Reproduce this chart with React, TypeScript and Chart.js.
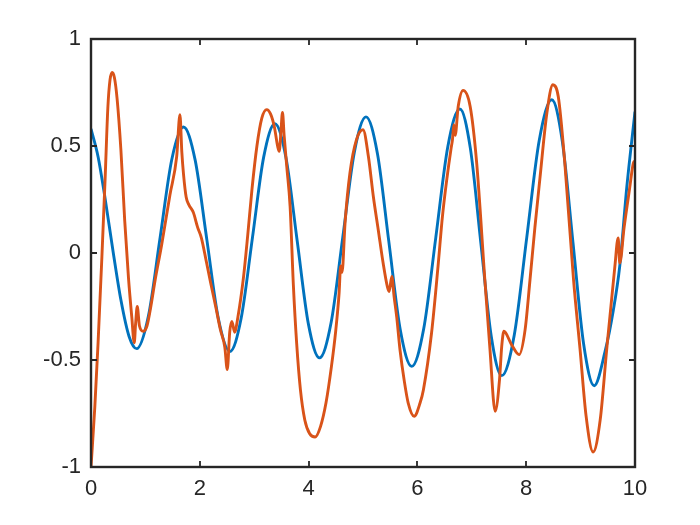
import React, { useEffect, useRef } from "react";
import { Chart, registerables } from "chart.js";

Chart.register(...registerables);

// Blue series (x, y)
const blueX = [
  0, 0.13, 0.25, 0.41, 0.55, 0.7, 0.84,
  1.055, 1.27, 1.485, 1.7,
  1.914, 2.128, 2.341, 2.555,
  2.761, 2.968, 3.174, 3.38,
  3.585, 3.79, 3.995, 4.2,
  4.414, 4.628, 4.841, 5.055,
  5.265, 5.475, 5.685, 5.895,
  6.116, 6.338, 6.559, 6.78,
  6.973, 7.165, 7.358, 7.55,
  7.78, 8.01, 8.24, 8.47,
  8.665, 8.86, 9.055, 9.25,
  9.45, 9.6, 9.72, 9.85, 10,
];
const blueY = [
  0.58, 0.45, 0.27, 0.0, -0.22, -0.39, -0.447,
  -0.295, 0.071, 0.437, 0.589,
  0.435, 0.065, -0.306, -0.46,
  -0.304, 0.072, 0.448, 0.604,
  0.444, 0.057, -0.33, -0.49,
  -0.325, 0.073, 0.471, 0.636,
  0.465, 0.053, -0.359, -0.53,
  -0.354, 0.072, 0.497, 0.673,
  0.49, 0.05, -0.39, -0.573,
  -0.384, 0.072, 0.527, 0.716,
  0.52, 0.048, -0.424, -0.62,
  -0.46, -0.27, -0.06, 0.31, 0.66,
];

// Orange series (x, y)
const orangeX = [
  0, 0.07, 0.13, 0.2, 0.26, 0.31, 0.35, 0.39, 0.43, 0.48, 0.55, 0.62, 0.69, 0.75,
  0.795, 0.82, 0.85, 0.89, 0.96, 1.03, 1.1, 1.18, 1.3, 1.45, 1.575, 1.635, 1.67,
  1.7, 1.75, 1.8, 1.88, 1.96, 2.03, 2.12, 2.2, 2.3, 2.38, 2.46, 2.505, 2.55, 2.59,
  2.64, 2.7, 2.8, 2.88, 2.96, 3.05, 3.14, 3.23, 3.3, 3.37, 3.43, 3.46, 3.49, 3.52,
  3.55, 3.6, 3.66, 3.72, 3.78, 3.85, 3.93, 4.02, 4.12, 4.22, 4.32, 4.42, 4.5, 4.56,
  4.59, 4.615, 4.67, 4.76, 4.88, 5.0, 5.1, 5.19, 5.28, 5.37, 5.45, 5.48, 5.53, 5.57,
  5.62, 5.68, 5.76, 5.83, 5.94, 6.05, 6.11, 6.26, 6.38, 6.46, 6.54, 6.62, 6.645, 6.67,
  6.695, 6.75, 6.84, 6.97, 7.09, 7.24, 7.33, 7.43, 7.51, 7.55, 7.59, 7.73, 7.87, 7.98,
  8.07, 8.16, 8.25, 8.38, 8.49, 8.59, 8.71, 8.87, 8.99, 9.1, 9.23, 9.36, 9.48, 9.63,
  9.69, 9.72, 9.8, 9.9, 9.97, 10,
];
const orangeY = [
  -1, -0.72, -0.42, -0.02, 0.35, 0.68, 0.81, 0.844, 0.82, 0.72, 0.48, 0.15, -0.12, -0.3,
  -0.42, -0.33, -0.25, -0.34, -0.366, -0.34, -0.25, -0.125, 0.04, 0.27, 0.45, 0.646, 0.47,
  0.37, 0.26, 0.225, 0.19, 0.12, 0.07, -0.04, -0.14, -0.26, -0.36, -0.44, -0.545, -0.37, -0.32,
  -0.37, -0.3, -0.12, 0.08, 0.3, 0.5, 0.63, 0.67, 0.65, 0.59, 0.5, 0.475, 0.56, 0.657,
  0.55, 0.4, 0.218, -0.15, -0.42, -0.64, -0.78, -0.845, -0.86, -0.81, -0.7, -0.53, -0.36, -0.19,
  -0.06, -0.09, 0.14, 0.374, 0.53, 0.576, 0.45, 0.264, 0.109, -0.047, -0.16, -0.18, -0.11, -0.2,
  -0.3, -0.452, -0.6, -0.7, -0.763, -0.7, -0.64, -0.374, -0.06, 0.17, 0.343, 0.49, 0.53, 0.6,
  0.55, 0.685, 0.76, 0.685, 0.42, -0.125, -0.436, -0.74, -0.59, -0.436, -0.366, -0.428, -0.475, -0.358,
  -0.125, 0.12, 0.343, 0.654, 0.786, 0.73, 0.42, -0.125, -0.45, -0.76, -0.93, -0.78, -0.45, -0.063,
  0.07, -0.047, 0.12, 0.3, 0.42, 0.43,
];

const xTickValues = [0, 2, 4, 6, 8, 10];
const xTickLabels = ["0", "2", "4", "6", "8", "10"];
const yTickValues = [-1, -0.5, 0, 0.5, 1];
const yTickLabels = ["-1", "-0.5", "0", "0.5", "1"];

const AXIS_COLOR = "#262626";
const FONT = "'Liberation Sans', Arial, Helvetica, sans-serif";

const boxPlugin = {
  id: "matlabBox",
  afterDraw(chart: any) {
    const { ctx, chartArea: a, scales } = chart;
    const tl = 6;
    ctx.save();
    ctx.strokeStyle = AXIS_COLOR;
    ctx.lineWidth = 1.8;
    ctx.beginPath();
    scales.x.ticks.forEach((t: any) => {
      const px = Math.round(scales.x.getPixelForValue(t.value));
      ctx.moveTo(px, a.bottom);
      ctx.lineTo(px, a.bottom - tl);
      ctx.moveTo(px, a.top);
      ctx.lineTo(px, a.top + tl);
    });
    scales.y.ticks.forEach((t: any) => {
      const py = Math.round(scales.y.getPixelForValue(t.value));
      ctx.moveTo(a.left, py);
      ctx.lineTo(a.left + tl, py);
      ctx.moveTo(a.right, py);
      ctx.lineTo(a.right - tl, py);
    });
    ctx.stroke();
    ctx.lineWidth = 2.4;
    ctx.strokeRect(a.left, a.top, a.right - a.left, a.bottom - a.top);
    ctx.restore();
  },
};

export default function App() {
  const ref = useRef<HTMLCanvasElement | null>(null);

  useEffect(() => {
    if (!ref.current) return;
    const blueData = blueX.map((x, i) => ({ x, y: blueY[i] }));
    const orangeData = orangeX.map((x, i) => ({ x, y: orangeY[i] }));
    const chart = new Chart(ref.current, {
      type: "line",
      data: {
        datasets: [
          {
            data: blueData,
            borderColor: "#0072BD",
            borderWidth: 2.9,
            pointRadius: 0,
            cubicInterpolationMode: "monotone",
            fill: false,
            order: 2,
          },
          {
            data: orangeData,
            borderColor: "#D95319",
            borderWidth: 2.9,
            pointRadius: 0,
            cubicInterpolationMode: "monotone",
            fill: false,
            order: 1,
          },
        ],
      },
      options: {
        animation: false,
        responsive: false,
        maintainAspectRatio: false,
        events: [],
        layout: { padding: { top: 39, right: 65, left: 0, bottom: 0 } },
        plugins: {
          legend: { display: false },
          tooltip: { enabled: false },
          title: { display: false },
        },
        scales: {
          x: {
            type: "linear",
            min: 0,
            max: 10,
            afterFit: (s: any) => {
              s.height = 58;
            },
            afterBuildTicks: (s: any) => {
              s.ticks = xTickValues.map((v) => ({ value: v }));
            },
            grid: { display: false, drawTicks: false },
            border: { display: false },
            ticks: {
              padding: 9,
              color: AXIS_COLOR,
              font: { family: FONT, size: 22 },
              maxRotation: 0,
              autoSkip: false,
              callback: (v: any) => {
                const i = xTickValues.indexOf(Number(v));
                return i >= 0 ? xTickLabels[i] : "";
              },
            },
          },
          y: {
            type: "linear",
            min: -1,
            max: 1,
            afterFit: (s: any) => {
              s.width = 91;
            },
            afterBuildTicks: (s: any) => {
              s.ticks = yTickValues.map((v) => ({ value: v }));
            },
            grid: { display: false, drawTicks: false },
            border: { display: false },
            ticks: {
              padding: 10,
              color: AXIS_COLOR,
              font: { family: FONT, size: 22 },
              autoSkip: false,
              callback: (v: any) => {
                const i = yTickValues.indexOf(Number(v));
                return i >= 0 ? yTickLabels[i] : "";
              },
            },
          },
        },
      },
      plugins: [boxPlugin],
    });
    return () => chart.destroy();
  }, []);

  return (
    <div style={{ position: "fixed", left: 0, top: 0, width: 700, height: 525, background: "#fff" }}>
      <canvas ref={ref} width={700} height={525} style={{ width: 700, height: 525, display: "block" }} />
    </div>
  );
}
